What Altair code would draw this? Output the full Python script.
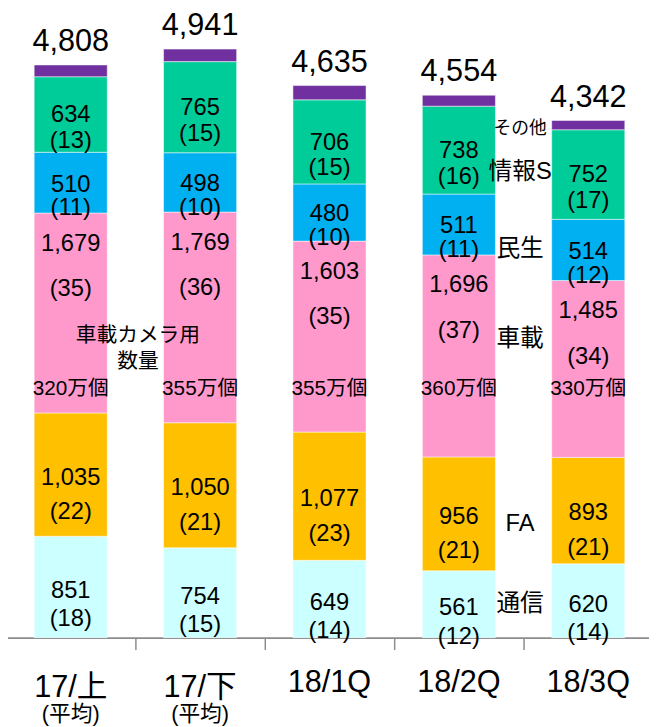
import altair as alt
import pandas as pd

categories = ["17/上", "17/下", "18/1Q", "18/2Q", "18/3Q"]
sub_labels = ["(平均)", "(平均)", "", "", ""]
series = ["通信", "FA", "車載", "民生", "情報S", "その他"]
totals = [4808, 4941, 4635, 4554, 4342]
tsushin = [851, 754, 649, 561, 620]
fa = [1035, 1050, 1077, 956, 893]
shasai = [1679, 1769, 1603, 1696, 1485]
minsei = [510, 498, 480, 511, 514]
joho = [634, 765, 706, 738, 752]
pct_tsushin = [18, 15, 14, 12, 14]
pct_fa = [22, 21, 23, 21, 21]
pct_shasai = [35, 36, 35, 37, 34]
pct_minsei = [11, 10, 10, 11, 12]
pct_joho = [13, 15, 15, 16, 17]
camera_units = ["320万個", "355万個", "355万個", "360万個", "330万個"]
camera_note = "車載カメラ用\n数量"
colors = ["#CCFFFF", "#FFC000", "#FF99CC", "#00B0F0", "#00CC99", "#7030A0"]

FONT = "Liberation Sans, Noto Sans CJK JP"

rows = []
for i, c in enumerate(categories):
    vals = [tsushin[i], fa[i], shasai[i], minsei[i], joho[i]]
    pcts = [pct_tsushin[i], pct_fa[i], pct_shasai[i], pct_minsei[i], pct_joho[i]]
    vals.append(totals[i] - sum(vals))
    pcts.append(None)
    y0 = 0
    for k, s in enumerate(series):
        v = vals[k]
        rows.append({
            "cat": c, "series": s, "order": k, "value": v,
            "pct_label": "" if pcts[k] is None else f"({pcts[k]})",
            "y0": y0, "y1": y0 + v, "mid": y0 + v / 2,
        })
        y0 += v
df = pd.DataFrame(rows)
df_tot = pd.DataFrame({"cat": categories, "total": totals, "sub": sub_labels})
df_cam = pd.DataFrame({"cat": categories, "units": camera_units})
df_note = pd.DataFrame({"cat": [categories[0]], "t": [camera_note]})

ys = alt.Scale(domain=[0, 5249], nice=False, zero=False)
X = alt.X("cat:N", sort=categories,
          scale=alt.Scale(range=[-2, 653], paddingInner=0, paddingOuter=0),
          axis=alt.Axis(title=None, labels=False, tickBand="extent", domainColor="#8c8c8c",
                        tickColor="#8c8c8c", tickSize=12, domainWidth=1.8, tickWidth=1.5,
                        grid=False))
Ymid = alt.Y("mid:Q", scale=ys, axis=None)


def ydat(v):
    return alt.YDatum(v, axis=None)


base = alt.Chart(df)

bars = base.mark_bar(size=74, stroke="white", strokeWidth=0.5).encode(
    x=X,
    y=alt.Y("y0:Q", scale=ys, axis=None),
    y2="y1:Q",
    color=alt.Color("series:N", scale=alt.Scale(domain=series, range=colors), legend=None),
)

# per-series label offsets (pixels) for value and percentage lines
label_offsets = {"通信": (4, 33), "FA": (3, 38), "民生": (2, 26), "情報S": (1, 27)}
seg_layers = []
for s, (dv, dp) in label_offsets.items():
    sel = base.transform_filter(f"datum.series == '{s}'")
    seg_layers.append(sel.mark_text(font=FONT, fontSize=24, baseline="middle", dy=dv).encode(
        x=X, y=Ymid, text=alt.Text("value:Q", format=",")))
    seg_layers.append(sel.mark_text(font=FONT, fontSize=24, baseline="middle", dy=dp).encode(
        x=X, y=Ymid, text="pct_label:N"))

pink = base.transform_filter("datum.series == '車載'")
pink_val = pink.mark_text(font=FONT, fontSize=24, baseline="middle", dy=31).encode(
    x=X, y=alt.Y("y1:Q", axis=None), text=alt.Text("value:Q", format=","))
pink_pct = pink.mark_text(font=FONT, fontSize=24, baseline="middle", dy=77).encode(
    x=X, y=alt.Y("y1:Q", axis=None), text="pct_label:N")

cam = alt.Chart(df_cam).mark_text(font=FONT, fontSize=21, baseline="middle").encode(
    x=X, y=ydat(2090), text="units:N")

note = alt.Chart(df_note).mark_text(font=FONT, fontSize=21, baseline="middle", dx=68,
                                    lineBreak="\n", lineHeight=26).encode(
    x=X, y=ydat(2529), text="t:N")

tot = alt.Chart(df_tot).mark_text(font=FONT, fontSize=31, baseline="alphabetic", dy=-14).encode(
    x=X, y=alt.Y("total:Q", axis=None), text=alt.Text("total:Q", format=","))

cat_single = alt.Chart(df_tot).transform_filter("datum.sub == ''").mark_text(
    font=FONT, fontSize=31, baseline="alphabetic", dy=55).encode(
    x=X, y=ydat(0), text="cat:N")
cat_double = alt.Chart(df_tot).transform_filter("datum.sub != ''").mark_text(
    font=FONT, fontSize=31, baseline="alphabetic", dy=60).encode(
    x=X, y=ydat(0), text="cat:N")
cat_sub = alt.Chart(df_tot).transform_filter("datum.sub != ''").mark_text(
    font=FONT, fontSize=22, baseline="alphabetic", dy=84).encode(
    x=X, y=ydat(0), text="sub:N")

ann_styles = {"通信": (3, 24), "FA": (14, 24), "車載": (-30, 24), "民生": (-1, 24),
              "情報S": (-2, 24), "その他": (4, 18)}
ann_layers = []
for s, (dy, fs) in ann_styles.items():
    ann_layers.append(
        base.transform_filter(f"datum.cat == '18/3Q' && datum.series == '{s}'")
        .mark_text(font=FONT, fontSize=fs, baseline="middle", dx=-69, dy=dy)
        .encode(x=X, y=Ymid, text="series:N")
    )

chart = alt.layer(
    bars, *seg_layers, pink_val, pink_pct, cam, note, tot,
    cat_single, cat_double, cat_sub, *ann_layers
).properties(
    width=649, height=633,
    autosize=alt.AutoSizeParams(type="none"),
    padding={"left": 0, "top": 0, "right": 0, "bottom": 86},
).configure_view(stroke=None)

chart.save("out.html", embed_options={"renderer": "svg", "actions": False})
